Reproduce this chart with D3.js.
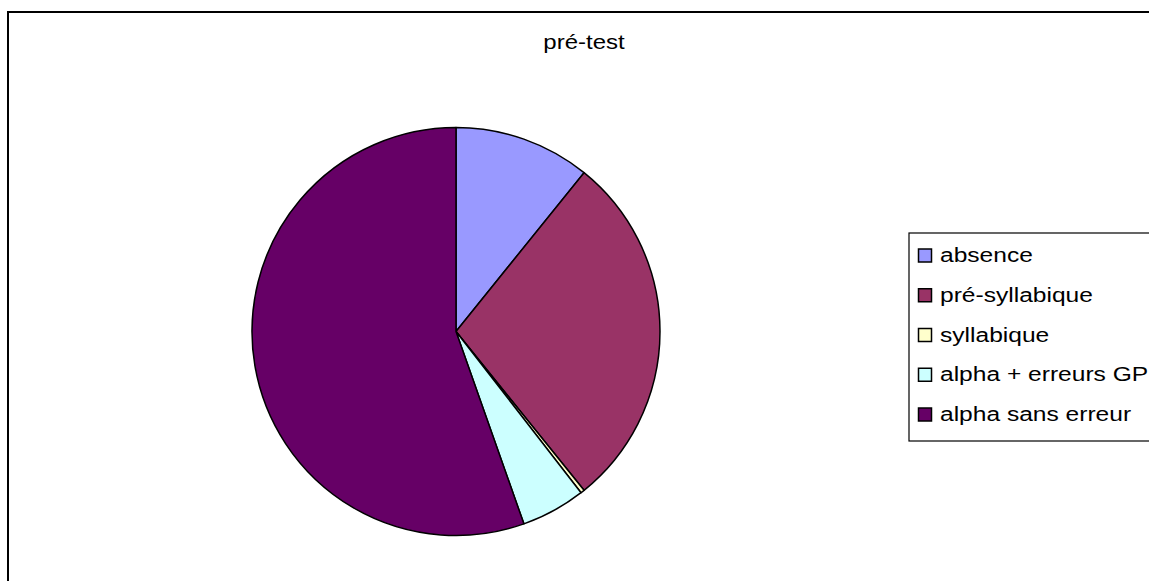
<!DOCTYPE html>
<html lang="fr">
<head>
<meta charset="UTF-8">
<title>pré-test</title>
<script src="https://cdnjs.cloudflare.com/ajax/libs/d3/7.8.5/d3.min.js"></script>
<style>
    body { margin: 0; padding: 0; background: #fff; }
    svg { display: block; }
    text { font-family: Arial, "Liberation Sans", sans-serif; fill: #000; }
</style>
</head>
<body>
<div id="chart"></div>
<script>
    // data (percent of the whole)
    const categories = ["absence", "pré-syllabique", "syllabique", "alpha + erreurs GP", "alpha sans erreur"];
    const values = [10.8, 28.4, 0.3, 5.1, 55.4];
    const colors = ["#9999FF", "#993366", "#FFFFCC", "#CCFFFF", "#660066"];
    const title = "pré-test";

    const W = 1149, H = 581;
    const svg = d3.select("#chart").append("svg")
        .attr("width", W)
        .attr("height", H);

    // outer chart frame (runs past the right and bottom edges)
    svg.append("rect")
        .attr("x", 8).attr("y", 12)
        .attr("width", W + 20).attr("height", H + 20)
        .attr("fill", "#fff")
        .attr("stroke", "#000")
        .attr("stroke-width", 2);

    // title
    svg.append("text")
        .attr("transform", "translate(584,49) scale(1.2,1)")
        .attr("text-anchor", "middle")
        .style("font-size", "20px")
        .text(title);

    // pie
    const cx = 456, cy = 331.5, r = 204;
    const pie = d3.pie().sort(null).value(d => d.value);
    const arc = d3.arc().innerRadius(0).outerRadius(r);
    const data = categories.map((c, i) => ({ name: c, value: values[i], color: colors[i] }));

    const g = svg.append("g").attr("transform", `translate(${cx},${cy})`);
    g.selectAll("path")
        .data(pie(data))
        .enter().append("path")
        .attr("d", arc)
        .attr("fill", d => d.data.color)
        .attr("stroke", "#000")
        .attr("stroke-width", 1.5)
        .attr("stroke-linejoin", "round");

    // legend
    const legX = 909, legY = 233, legH = 208;
    svg.append("rect")
        .attr("x", legX).attr("y", legY)
        .attr("width", 300).attr("height", legH)
        .attr("fill", "#fff")
        .attr("stroke", "#000")
        .attr("stroke-width", 1.2);

    const rowY = d3.scalePoint()
        .domain(categories)
        .range([262, 421]);

    const item = svg.selectAll(".leg")
        .data(data)
        .enter().append("g")
        .attr("class", "leg");

    item.append("rect")
        .attr("x", 918.5)
        .attr("y", d => rowY(d.name) - 13)
        .attr("width", 13).attr("height", 13)
        .attr("fill", d => d.color)
        .attr("stroke", "#000")
        .attr("stroke-width", 1.5);

    item.append("text")
        .attr("transform", d => `translate(940,${rowY(d.name)}) scale(1.17,1)`)
        .style("font-size", "21px")
        .text(d => d.name);
</script>
</body>
</html>
